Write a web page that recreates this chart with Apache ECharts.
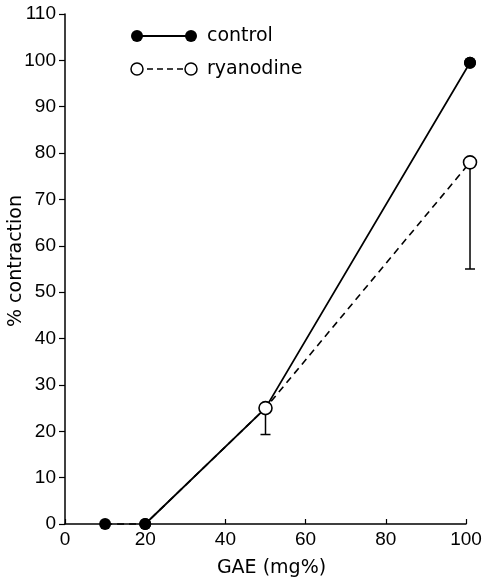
<!DOCTYPE html>
<html>
<head>
<meta charset="utf-8">
<script src="https://cdn.jsdelivr.net/npm/echarts@6/dist/echarts.min.js"></script>
<style>
  html, body { margin: 0; padding: 0; background: #fff; }
  #chart { width: 482px; height: 582px; }
</style>
</head>
<body>
<div id="chart"></div>
<script>
// GAE concentration (mg%) and % contraction
const controlX = [10, 20, 50, 101];
const controlY = [0, 0, 25, 99.5];

const ryanodineX = [10, 20, 50, 101];
const ryanodineY = [0, 0, 25, 78];
// lower end of the error bars on the ryanodine points
const ryanodineErrX = [50, 101];
const ryanodineErrLow = [19.3, 55];

const xTicks = [0, 20, 40, 60, 80, 100];
const yTicks = [0, 10, 20, 30, 40, 50, 60, 70, 80, 90, 100, 110];

const TICK_FONT = 'Liberation Sans';
const TEXT_FONT = 'DejaVu Sans';
const INK = '#000';

const controlPts = controlX.map((x, i) => [x, controlY[i]]);
// the solid control line starts at 20 mg%; the 10 mg% point is a marker only
const controlLine = controlPts.slice(1);
const ryanodinePts = ryanodineX.map((x, i) => {
  const j = controlX.indexOf(x);
  return {
    value: [x, ryanodineY[i]],
    // points shared with the zero part of the control curve keep the filled marker
    symbol: j >= 0 && controlY[j] === 0 && ryanodineY[i] === 0 ? 'none' : 'circle'
  };
});
const errData = ryanodineErrX.map((x, i) => [x, ryanodineY[ryanodineX.indexOf(x)], ryanodineErrLow[i]]);

const chart = echarts.init(document.getElementById('chart'), null, { renderer: 'canvas' });

chart.setOption({
  animation: false,
  backgroundColor: '#fff',
  grid: { left: 65, right: 16, top: 14, bottom: 58, containLabel: false, outerBoundsMode: 'none' },
  xAxis: {
    type: 'value',
    min: xTicks[0],
    max: xTicks[xTicks.length - 1],
    interval: 20,
    name: 'GAE (mg%)',
    nameLocation: 'middle',
    nameGap: 35,
    nameTextStyle: { fontFamily: TEXT_FONT, fontSize: 19, color: INK, padding: [0, 0, 0, 12] },
    axisLine: { lineStyle: { color: INK, width: 1.5 } },
    axisTick: { inside: true, length: 5, lineStyle: { color: INK, width: 1.2 } },
    axisLabel: { fontFamily: TICK_FONT, fontSize: 19, color: INK, margin: 6 },
    splitLine: { show: false }
  },
  yAxis: {
    type: 'value',
    min: yTicks[0],
    max: yTicks[yTicks.length - 1],
    interval: 10,
    axisLine: { show: true, lineStyle: { color: INK, width: 1.5 } },
    axisTick: { show: true, inside: false, length: 6, lineStyle: { color: INK, width: 1.2 } },
    axisLabel: { fontFamily: TICK_FONT, fontSize: 19, color: INK, margin: 9 },
    splitLine: { show: false }
  },
  series: [
    {
      name: 'ryanodine-err',
      type: 'custom',
      z: 3,
      clip: false,
      renderItem: function (params, api) {
        const top = api.coord([api.value(0), api.value(1)]);
        const bot = api.coord([api.value(0), api.value(2)]);
        const half = 5;
        return {
          type: 'group',
          children: [
            { type: 'line', shape: { x1: top[0], y1: top[1], x2: bot[0], y2: bot[1] },
              style: { stroke: INK, lineWidth: 1.5 } },
            { type: 'line', shape: { x1: bot[0] - half, y1: bot[1], x2: bot[0] + half, y2: bot[1] },
              style: { stroke: INK, lineWidth: 1.5 } }
          ]
        };
      },
      data: errData
    },
    {
      name: 'control',
      type: 'line',
      z: 4,
      clip: false,
      data: controlLine,
      symbol: 'circle',
      symbolSize: 12,
      itemStyle: { color: INK, opacity: 1 },
      lineStyle: { color: INK, width: 1.8 }
    },
    {
      name: 'control-markers',
      type: 'scatter',
      z: 4,
      clip: false,
      data: controlPts,
      symbol: 'circle',
      symbolSize: 12,
      itemStyle: { color: INK, opacity: 1 }
    },
    {
      name: 'ryanodine',
      type: 'line',
      z: 5,
      clip: false,
      data: ryanodinePts,
      symbol: 'circle',
      symbolSize: 13,
      showAllSymbol: true,
      itemStyle: { color: '#fff', borderColor: INK, borderWidth: 1.6, opacity: 1 },
      lineStyle: { color: INK, width: 1.6, type: [7, 5] }
    }
  ],
  graphic: [
    // y-axis title
    { type: 'text', x: 16, y: 261, rotation: Math.PI / 2,
      style: { text: '% contraction', fontFamily: TEXT_FONT, fontSize: 19, fill: INK, align: 'center', verticalAlign: 'middle' } },
    // legend: control
    { type: 'line', shape: { x1: 137, y1: 36, x2: 191, y2: 36 }, style: { stroke: INK, lineWidth: 1.8 } },
    { type: 'circle', shape: { cx: 137, cy: 36, r: 6 }, style: { fill: INK } },
    { type: 'circle', shape: { cx: 191, cy: 36, r: 6 }, style: { fill: INK } },
    { type: 'text', x: 207, y: 36, style: { text: 'control', fontFamily: TEXT_FONT, fontSize: 19, fill: INK, verticalAlign: 'middle' } },
    // legend: ryanodine
    { type: 'line', shape: { x1: 137, y1: 69, x2: 191, y2: 69 }, style: { stroke: INK, lineWidth: 1.6, lineDash: [6, 4] } },
    { type: 'circle', shape: { cx: 137, cy: 69, r: 6 }, style: { fill: '#fff', stroke: INK, lineWidth: 1.5 } },
    { type: 'circle', shape: { cx: 191, cy: 69, r: 6 }, style: { fill: '#fff', stroke: INK, lineWidth: 1.5 } },
    { type: 'text', x: 207, y: 69, style: { text: 'ryanodine', fontFamily: TEXT_FONT, fontSize: 19, fill: INK, verticalAlign: 'middle' } }
  ]
});
</script>
</body>
</html>
